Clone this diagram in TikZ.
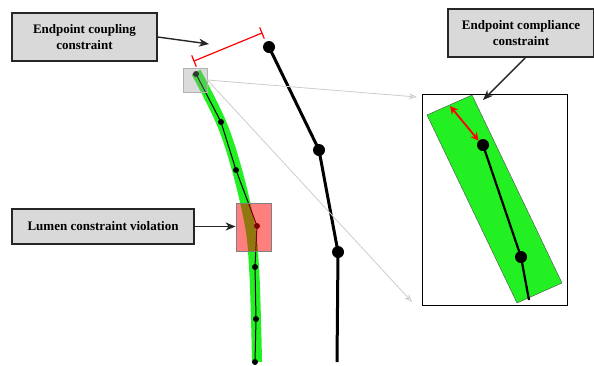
\documentclass[tikz,border=0pt]{standalone}
\usepackage{fontspec}
\setmainfont{Liberation Serif}
\usetikzlibrary{arrows.meta,calc}
\definecolor{bgreen}{RGB}{34,240,34}
\definecolor{lbox}{RGB}{217,217,217}
\begin{document}
\begin{tikzpicture}[x=1pt,y=-1pt,
  label/.style={draw=black!85,line width=1.3pt,fill=lbox,align=center,font=\bfseries\fontsize{13}{16}\selectfont,inner sep=0pt},
  callout/.style={-{Stealth[length=10pt,width=8pt,inset=3pt]},line width=1.4pt,black!85},
  sdot/.style={circle,fill=black,inner sep=0pt,minimum size=6pt},
  bdot/.style={circle,fill=black,inner sep=0pt,minimum size=12pt},
  glink/.style={-{Stealth[length=8pt,width=6pt,open]},line width=0.8pt,black!20}]
\useasboundingbox (0,0) rectangle (594,365);

% labels
\node[label,minimum width=145pt,minimum height=48pt] (lcoup) at (84.5,37) {Endpoint coupling\\constraint};
\node[label,minimum width=182pt,minimum height=35pt] (llum) at (103,226.5) {Lumen constraint violation};
\node[label,minimum width=146pt,minimum height=48pt] (lcomp) at (521,33) {Endpoint compliance\\constraint};

% green band
\draw[bgreen,line width=10pt] plot[smooth,tension=0.6] coordinates {(196,72) (221,122) (237,170) (250,226) (254,267) (256,319) (257,362)};

% left polyline
\node[sdot] (p1) at (196,74) {};
\node[sdot] (p2) at (221,122) {};
\node[sdot] (p3) at (236,170) {};
\node[sdot] (p4) at (257,226) {};
\node[sdot] (p5) at (255,267) {};
\node[sdot] (p6) at (256,319) {};
\node[sdot] (p7) at (255,362) {};
\draw[line width=1pt] (p1.center) -- (p2.center) -- (p3.center) -- (p4.center) -- (p5.center) -- (p6.center) -- (p7.center);

% small gray box
\node[draw=black!30,fill=black!40,fill opacity=0.35,line width=0.8pt,minimum width=24pt,minimum height=24pt,inner sep=0pt] (gb) at (195,80) {};

% red violation box
\node[draw=black!50,fill=red,fill opacity=0.5,line width=0.8pt,minimum width=35pt,minimum height=48pt,inner sep=0pt] (rb) at (253.5,227) {};

% right polyline
\node[bdot] (q1) at (269,47) {};
\node[bdot] (q2) at (319,150) {};
\node[bdot] (q3) at (338,252) {};
\coordinate (q4) at (337,362);
\draw[line width=3pt] (q1.center) -- (q2.center) -- (q3.center) -- (q4);

% coupling bracket
\coordinate (b1) at (194,61);
\coordinate (b2) at (262,33);
\draw[red,line width=1.2pt] (b1) -- (b2);
\draw[red,line width=1.2pt] ($(b1)+(-2.3,-5.6)$) -- ($(b1)+(2.3,5.6)$);
\draw[red,line width=1.2pt] ($(b2)+(-2.3,-5.6)$) -- ($(b2)+(2.3,5.6)$);

% inset
\node[draw=black,line width=1pt,minimum width=145pt,minimum height=211pt,inner sep=0pt] (inset) at (494.5,199.5) {};
\coordinate (g1) at (417,97);
\coordinate (g2) at (412,302);
\draw[glink] (gb.east) -- (g1);
\draw[glink] (gb.east) -- (g2);

\fill[bgreen,draw=black!70,line width=0.4pt] (427,115) -- (472,95) -- (562,283) -- (517,303) -- cycle;
\node[bdot] (r1) at (483,145) {};
\node[bdot] (r2) at (521,257) {};
\coordinate (r3) at (529,300);
\draw[line width=2.2pt] (r1.center) -- (r2.center) -- (r3);
\coordinate (d1) at (450,106);
\draw[red,line width=1.8pt,{Stealth[length=8pt,width=8pt]}-{Stealth[length=8pt,width=8pt]}] (d1) -- (r1.north west);

% callouts
\draw[callout] (lcoup.east |- 0,37) -- (209,44);
\draw[callout] (llum.east) -- (rb.west |- llum.east);
\draw[callout] (525,58) -- (483,100);
\end{tikzpicture}
\end{document}
